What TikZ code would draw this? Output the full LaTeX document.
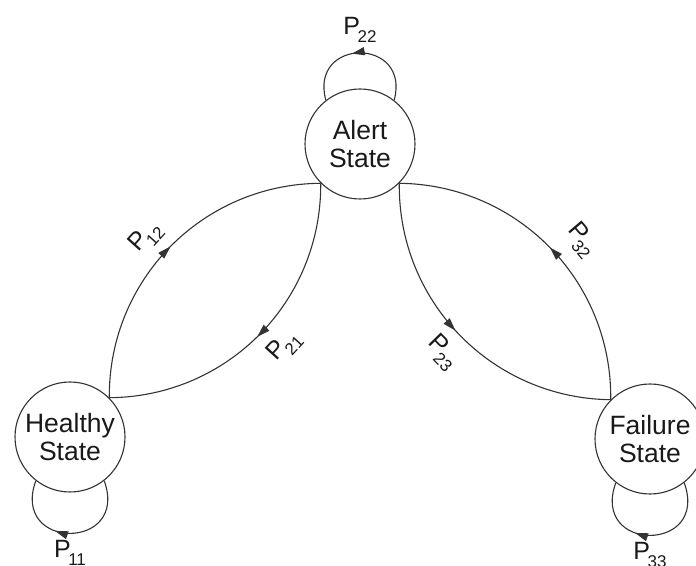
\documentclass[tikz,border=0pt]{standalone}
\usepackage{fontspec}
\setmainfont{Liberation Sans}
\usetikzlibrary{arrows.meta,decorations.markings}

\newcommand{\trans}[1]{P\kern-2.5pt\raisebox{-8pt}{\fontsize{17}{17}\selectfont #1}}

\tikzset{
  state/.style={circle, draw, minimum size=110pt, inner sep=0pt, align=center,
    font=\fontsize{26.5}{28}\selectfont},
  flow/.style={postaction={decorate}, decoration={markings,
    mark=at position #1 with {\arrow{Triangle[length=13pt,width=8pt]}}}},
  prob/.style={font=\fontsize{25}{28}\selectfont, inner sep=2pt},
}

\begin{document}
\begin{tikzpicture}[x=1pt, y=1pt, line width=1.1pt, draw=black!80, text=black!90]
    \useasboundingbox (0,0) rectangle (696,565);

    \node[state] (alert) at (360,421) {Alert\\State};
    \node[state] (healthy) at (70,128) {Healthy\\State};
    \node[state] (failure) at (650,126) {Failure\\State};

    % healthy <-> alert
    \draw[flow=0.5] (healthy.45) to[bend left=45]
        node[prob, pos=0.47, sloped, above=9pt] {\trans{12}} (alert.225);
    \draw[flow=0.51] (alert.225) to[bend left=45]
        node[prob, pos=0.475, sloped, below=11pt] {\trans{21}} (healthy.45);

    % alert <-> failure
    \draw[flow=0.48] (alert.-45) to[bend right=45]
        node[prob, pos=0.5, sloped, below=9pt] {\trans{23}} (failure.135);
    \draw[flow=0.5] (failure.135) to[bend right=45]
        node[prob, pos=0.455, sloped, above=13pt] {\trans{32}} (alert.-45);

    % self loops
    \draw[flow=0.56] (alert.52) to[out=75, in=105, looseness=2.45]
        node[prob, above=8pt] {\trans{22}} (alert.128);
    \draw[flow=0.6] (healthy.-52) to[out=-70, in=-110, looseness=2.8]
        node[prob, below=4pt] {\trans{11}} (healthy.-128);
    \draw[flow=0.6] (failure.-52) to[out=-70, in=-110, looseness=2.8]
        node[prob, below=4pt] {\trans{33}} (failure.-128);
\end{tikzpicture}
\end{document}
